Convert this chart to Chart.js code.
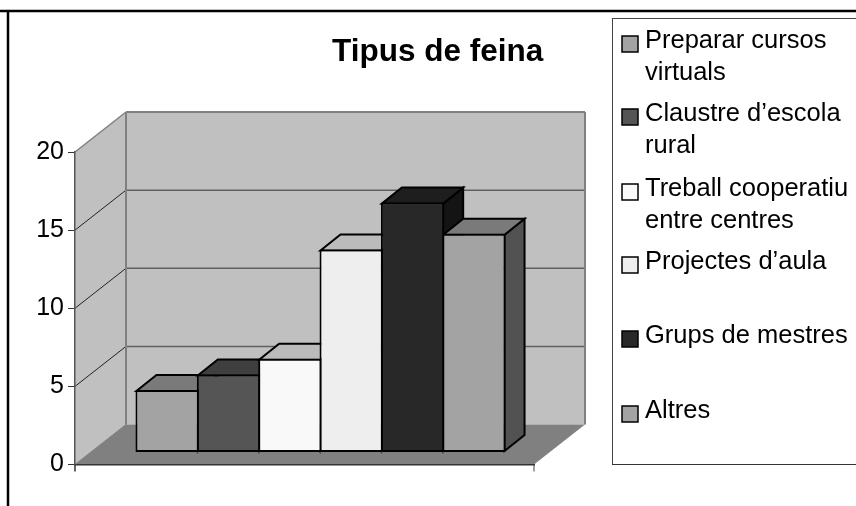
<!DOCTYPE html>
<html><head><meta charset="utf-8">
<style>html,body{margin:0;padding:0;background:#fff}canvas{display:block}</style>
<script src="https://cdn.jsdelivr.net/npm/chart.js@4"></script>
</head><body><canvas id="c" width="856" height="506"></canvas>
<script>
const chartTitle = "Tipus de feina";
const categories = [""];
const seriesNames = ["Preparar cursos virtuals","Claustre d’escola rural","Treball cooperatiu entre centres","Projectes d’aula","Grups de mestres","Altres"];
const legendLines = [["Preparar cursos","virtuals"],["Claustre d’escola","rural"],["Treball cooperatiu","entre centres"],["Projectes d’aula"],["Grups de mestres"],["Altres"]];
const seriesValues = [4,5,6,13,16,14];
const yTicks = [0,5,10,15,20];

const FONT = '"Liberation Sans", Arial, sans-serif';
const front = ["#a3a3a3","#555555","#f9f9f9","#eeeeee","#282828","#a3a3a3"];
const topC  = ["#7a7a7a","#3f3f3f","#bbbbbb","#bbbbbb","#1e1e1e","#7a7a7a"];
const sideC = ["#525252","#2a2a2a","#7c7c7c","#777777","#141414","#525252"];
const WALL = {dx:51, dy:-40};          // floor depth
const PLANE = {dx:16, dy:-12};         // bar front plane inside the floor
const BAR = {dx:20, dy:-16};           // bar depth

function poly(ctx, pts, fill, stroke, lw){
  ctx.beginPath();
  pts.forEach((p,i)=> i?ctx.lineTo(p[0],p[1]):ctx.moveTo(p[0],p[1]));
  ctx.closePath();
  if(fill){ctx.fillStyle=fill;ctx.fill();}
  if(stroke){ctx.strokeStyle=stroke;ctx.lineWidth=lw;ctx.lineJoin='miter';ctx.stroke();}
}
function line(ctx,x1,y1,x2,y2,c,w){
  ctx.beginPath();ctx.moveTo(x1,y1);ctx.lineTo(x2,y2);ctx.strokeStyle=c;ctx.lineWidth=w;ctx.stroke();
}

const scene = {
  id:'scene',
  beforeDraw(chart){
    const {ctx,chartArea:a,scales:{y}} = chart;
    const L=a.left,R=a.right,B=y.getPixelForValue(0),T=y.getPixelForValue(20);
    const dx=WALL.dx,dy=WALL.dy;
    ctx.save();
    ctx.fillStyle='#fff';ctx.fillRect(0,0,chart.width,chart.height);
    // outer frame
    line(ctx,0,11,856,11,'#000',2.5);
    line(ctx,8,10,8,506,'#000',2.5);
    // walls
    poly(ctx,[[L,B],[L+dx,B+dy],[L+dx,T+dy],[L,T]],'#c0c0c0');
    poly(ctx,[[L+dx,B+dy],[R+dx,B+dy],[R+dx,T+dy],[L+dx,T+dy]],'#c0c0c0');
    poly(ctx,[[L,B],[R,B],[R+dx,B+dy],[L+dx,B+dy]],'#808080');
    // gridlines
    yTicks.slice(1,-1).forEach(v=>{
      const p=y.getPixelForValue(v);
      line(ctx,L,p,L+dx,p+dy,'#222',1);
      line(ctx,L+dx,p+dy,R+dx,p+dy,'#606060',1.5);
    });
    // wall edges
    ctx.lineJoin='miter';
    line(ctx,L,T,L+dx,T+dy,'#808080',1.5);
    line(ctx,L+dx,T+dy,R+dx,T+dy,'#808080',2);
    line(ctx,R+dx,T+dy,R+dx,B+dy,'#808080',2);
    line(ctx,L+dx,T+dy,L+dx,B+dy,'#808080',2);
    line(ctx,L,B,L+dx,B+dy,'#808080',1);
    // axis end ticks
    line(ctx,L,B,L,B+7,'#333',1.5);
    line(ctx,R,B,R,B+7,'#808080',1.5);
    // title
    ctx.fillStyle='#000';ctx.font='bold 31.5px '+FONT;ctx.textAlign='left';ctx.textBaseline='alphabetic';
    ctx.fillText(chartTitle,332,61);
    // legend
    line(ctx,612,18.5,856,18.5,'#444',1);
    line(ctx,612.5,18,612.5,464.5,'#444',1);
    line(ctx,612,464.5,856,464.5,'#333',1);
    const bases=[48,121,196,269,343,418];
    ctx.font='25.5px '+FONT;
    legendLines.forEach((ls,i)=>{
      ctx.fillStyle=front[i];ctx.fillRect(622,bases[i]-12,16,16);
      ctx.strokeStyle='#000';ctx.lineWidth=1.5;ctx.strokeRect(622,bases[i]-12,16,16);
      ctx.fillStyle='#000';
      ls.forEach((t,j)=>ctx.fillText(t,645,bases[i]+j*32));
    });
    ctx.restore();
  },
  beforeDatasetsDraw(chart){
    const ctx=chart.ctx;
    ctx.save();
    ctx.translate(PLANE.dx,PLANE.dy);
    seriesValues.forEach((v,i)=>{
      const b=chart.getDatasetMeta(i).data[0];
      const xl=b.x-b.width/2+1,xr=b.x+b.width/2-1,yt=b.y+1,yb=b.base-1;
      poly(ctx,[[xr,yb],[xr+BAR.dx,yb+BAR.dy],[xr+BAR.dx,yt+BAR.dy],[xr,yt]],sideC[i],'#000',2);
      poly(ctx,[[xl,yt],[xr,yt],[xr+BAR.dx,yt+BAR.dy],[xl+BAR.dx,yt+BAR.dy]],topC[i],'#000',2);
    });
  },
  afterDatasetsDraw(chart){
    const ctx=chart.ctx;
    // small category marks under the bar dividers
    seriesValues.forEach((v,i)=>{
      const b=chart.getDatasetMeta(i).data[0];
      const x=b.x+b.width/2-1;
      if(i<seriesValues.length-1) line(ctx,x,b.base,x,b.base+2,'#555',1);
    });
    ctx.restore();
  }
};

new Chart(document.getElementById('c'),{
  type:'bar',
  data:{
    labels:categories,
    datasets:seriesNames.map((n,i)=>({
      label:n,data:[seriesValues[i]],backgroundColor:front[i],
      borderColor:'#000',borderWidth:2,borderSkipped:false,clip:false,
      barPercentage:1.032,categoryPercentage:0.802
    }))
  },
  options:{
    responsive:false,animation:false,
    layout:{padding:{left:0,right:322,top:152,bottom:41.5}},
    plugins:{legend:{display:false},title:{display:false},tooltip:{enabled:false}},
    scales:{
      x:{grid:{display:false},ticks:{display:false},border:{display:true,color:'#333',width:1.5},
         afterFit(s){s.height=0;}},
      y:{min:0,max:20,
         afterBuildTicks(s){s.ticks=yTicks.map(v=>({value:v}));},
         grid:{drawOnChartArea:false,drawTicks:true,tickLength:7,color:'#333',lineWidth:1},
         border:{display:true,color:'#555',width:1.5},
         ticks:{color:'#000',font:{family:FONT,size:25},padding:4,autoSkip:false},
         afterFit(s){s.width=75;}}
    }
  },
  plugins:[scene]
});
</script></body></html>
